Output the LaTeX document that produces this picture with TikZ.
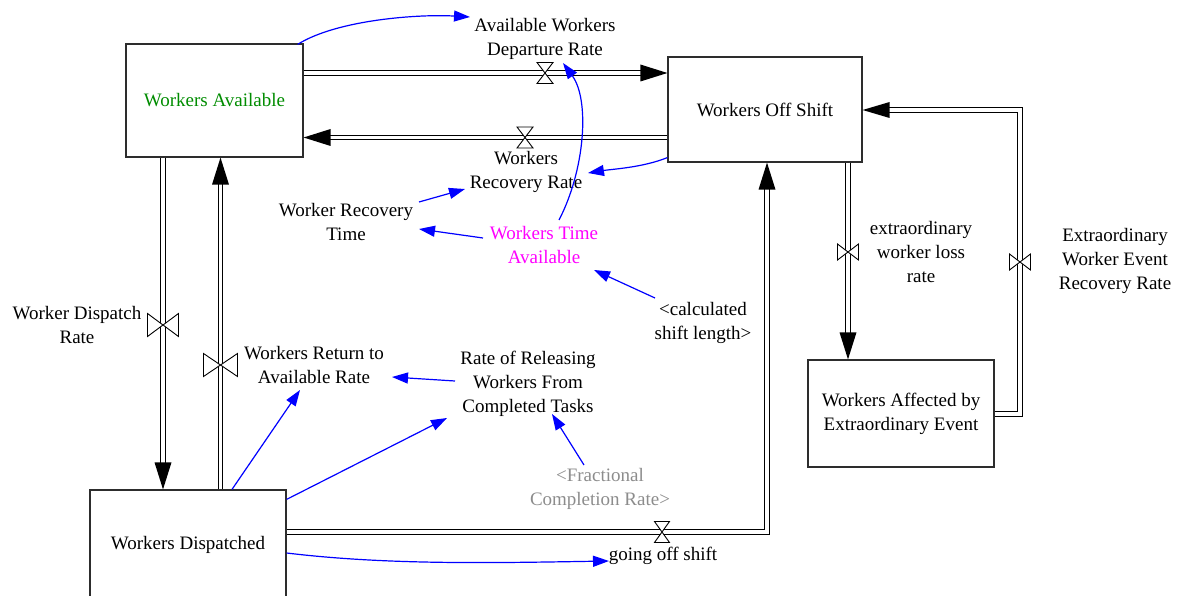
\documentclass[tikz,border=0pt]{standalone}
\usepackage{fontspec}
\setmainfont{Liberation Serif}
\newfontfamily\diagfont{Liberation Serif}
\usetikzlibrary{arrows.meta}
\definecolor{stockgreen}{RGB}{0,140,0}
\definecolor{linkblue}{RGB}{0,0,255}
\definecolor{auxmagenta}{RGB}{255,0,255}
\definecolor{shadowgray}{RGB}{140,140,140}
\definecolor{boxline}{RGB}{45,45,45}
\tikzset{
  valve/.style={draw=black, fill=white, line width=0.9pt, line join=miter},
  pics/hvalve/.style n args={2}{code={
     \path[valve] (-#1/2,-#2/2) -- (#1/2,-#2/2) -- (0,0) -- cycle;
     \path[valve] (-#1/2,#2/2) -- (#1/2,#2/2) -- (0,0) -- cycle;}},
  pics/vvalve/.style n args={2}{code={
     \path[valve] (-#1/2,-#2/2) -- (-#1/2,#2/2) -- (0,0) -- cycle;
     \path[valve] (#1/2,-#2/2) -- (#1/2,#2/2) -- (0,0) -- cycle;}},
  stock/.style={draw=boxline, line width=1.2pt, inner sep=0pt},
  pipe/.style={draw=black, line width=1.1pt, double=white, double distance=3.4pt, line join=miter},
  flowtip/.style={fill=black},
  link/.style={draw=linkblue, line width=1.2pt, -{Triangle[length=16pt,width=11pt]}},
}
\begin{document}
\begin{tikzpicture}[x=1pt,y=-1pt,
  every node/.style={font=\diagfont\fontsize{19}{24}\selectfont, align=center, inner sep=1pt}]
\useasboundingbox (0,0) rectangle (1177,596);

% stocks
\node[stock, minimum width=177pt, minimum height=113pt, text=stockgreen] (wa) at (214.5,100.5) {Workers Available};
\node[stock, minimum width=194pt, minimum height=105pt] (wos) at (765,109.5) {Workers Off Shift};
\node[stock, minimum width=196pt, minimum height=110pt] (wd) at (188,545) {Workers Dispatched};
\node[stock, minimum width=186pt, minimum height=107pt] (wae) at (901,413.5) {Workers Affected by\\Extraordinary Event};

% labels
\node (adwr) at (545,39) {Available Workers\\Departure Rate};
\node (wrr) at (526,172) {Workers\\Recovery Rate};
\node (wdr) at (77,325) {Worker Dispatch\\Rate};
\node (wrar) at (314,365) {Workers Return to\\Available Rate};
\node (wrt) at (346,222) {Worker Recovery\\Time};
\node[text=auxmagenta] (wta) at (544,245) {Workers Time\\Available};
\node (csl) at (703,323) {<calculated\\shift length>};
\node (rrw) at (528,384) {Rate of Releasing\\Workers From\\Completed Tasks};
\node[text=shadowgray] (fcr) at (600,489) {<Fractional\\Completion Rate>};
\node (gos) at (663,556) {going off shift};
\node (ewl) at (921,252) {extraordinary\\worker loss\\rate};
\node (ewer) at (1115,261) {Extraordinary\\Worker Event\\Recovery Rate};

% valve positions and pipe corners
\coordinate (v1) at (545,73);
\coordinate (v2) at (525,137.5);
\coordinate (v3) at (163,325);
\coordinate (v4) at (220.5,365);
\coordinate (v5) at (662,532);
\coordinate (c5) at (767,532);
\coordinate (v6) at (848,252);
\coordinate (v7) at (1020,262);
\coordinate (c7a) at (1020,414);
\coordinate (c7b) at (1020,110);

% pipes
\draw[pipe, shorten >=26pt] (wa.east |- v1) -- (wos.west |- v1);
\fill[flowtip] (wos.west |- v1) -- ++(-27,-8.5) -- ++(0,17) -- cycle;

\draw[pipe, shorten >=26pt] (wos.west |- v2) -- (wa.east |- v2);
\fill[flowtip] (wa.east |- v2) -- ++(27,-8.5) -- ++(0,17) -- cycle;

\draw[pipe, shorten >=26pt] (wa.south -| v3) -- (wd.north -| v3);
\fill[flowtip] (wd.north -| v3) -- ++(-8.5,-27) -- ++(17,0) -- cycle;

\draw[pipe, shorten >=26pt] (wd.north -| v4) -- (wa.south -| v4);
\fill[flowtip] (wa.south -| v4) -- ++(-8.5,27) -- ++(17,0) -- cycle;

\draw[pipe, shorten >=26pt] (wd.east |- v5) -- (c5) -- (wos.south -| c5);
\fill[flowtip] (wos.south -| c5) -- ++(-8.5,27) -- ++(17,0) -- cycle;

\draw[pipe, shorten >=26pt] (wos.south -| v6) -- (wae.north -| v6);
\fill[flowtip] (wae.north -| v6) -- ++(-8.5,-27) -- ++(17,0) -- cycle;

\draw[pipe, shorten >=26pt] (wae.east |- c7a) -- (c7a) -- (c7b) -- (wos.east |- c7b);
\fill[flowtip] (wos.east |- c7b) -- ++(27,-8) -- ++(0,16) -- cycle;

% valves
\pic at (v1) {hvalve={16}{21}};
\pic at (v2) {hvalve={16}{21}};
\pic at (v3) {vvalve={31}{23}};
\pic at (v4) {vvalve={34}{23}};
\pic at (v5) {hvalve={15}{21}};
\pic at (v6) {vvalve={21}{16}};
\pic at (v7) {vvalve={21}{16}};

% information links
\draw[link] ([shift={(-6,1)}]wa.north east) .. controls +(40,-25) and +(-50,-3) .. ([shift={(-75,-22)}]adwr.center);
\draw[link] ([shift={(0,-5)}]wos.south west) .. controls +(-25,10) and +(25,-4) .. ([shift={(62,1)}]wrr.center);
\draw[link] ([shift={(73,-20)}]wrt.center) -- ([shift={(-61,17)}]wrr.center);
\draw[link] ([shift={(-61,-7)}]wta.center) -- ([shift={(73,7)}]wrt.center);
\draw[link] ([shift={(15,-25)}]wta.center) .. controls +(26,-50) and +(27,37) .. ([shift={(18,24)}]adwr.center);
\draw[link] ([shift={(-48,-25)}]csl.center) -- ([shift={(50,25)}]wta.center);
\draw[link] ([shift={(-73,-3)}]rrw.center) -- ([shift={(78,12)}]wrar.center);
\draw[link] ([shift={(44,0)}]wd.north) -- ([shift={(-14,25)}]wrar.center);
\draw[link] ([shift={(0,10)}]wd.north east) -- ([shift={(-81,34)}]rrw.center);
\draw[link] ([shift={(-16,-24)}]fcr.center) -- ([shift={(24,30)}]rrw.center);
\draw[link] ([shift={(0,8)}]wd.east) .. controls +(100,12) and +(-120,2) .. ([shift={(-54,5)}]gos.center);
\end{tikzpicture}
\end{document}
